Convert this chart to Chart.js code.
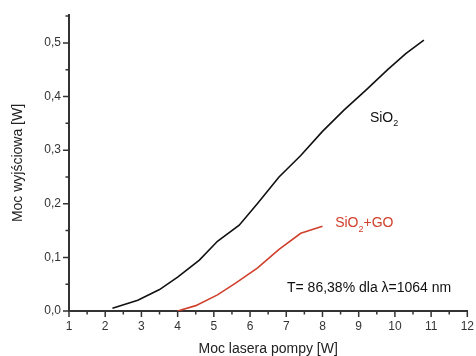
<!DOCTYPE html>
<html>
<head>
<meta charset="utf-8">
<script src="https://cdn.jsdelivr.net/npm/chart.js@4.4.1/dist/chart.umd.min.js"></script>
<style>
  html, body { margin: 0; padding: 0; background: #fff; }
  canvas { display: block; }
</style>
</head>
<body>
<canvas id="wykres" width="476" height="356"></canvas>
<script>
// dane
const sio2X = [2.2, 2.9, 3.5, 4.0, 4.6, 5.1, 5.7, 6.2, 6.8, 7.4, 8.0, 8.6, 9.2, 9.8, 10.3, 10.8];
const sio2Y = [0.005, 0.02, 0.04, 0.063, 0.095, 0.13, 0.16, 0.2, 0.25, 0.29, 0.335, 0.375, 0.412, 0.45, 0.48, 0.505];

const goX = [4.0, 4.5, 5.1, 5.6, 6.2, 6.8, 7.4, 8.0];
const goY = [0.0, 0.01, 0.03, 0.052, 0.08, 0.115, 0.145, 0.158];

const xTicks = [1, 2, 3, 4, 5, 6, 7, 8, 9, 10, 11, 12];
const yTicks = [0.0, 0.1, 0.2, 0.3, 0.4, 0.5];

const czcionka = "'Liberation Sans', Arial, sans-serif";

// podpisy na wykresie
const napisy = [
    { x: 9.31, y: 0.36, tekst: 'SiO', sub: '2', reszta: '', kolor: '#111' },
    { x: 8.35, y: 0.164, tekst: 'SiO', sub: '2', reszta: '+GO', kolor: '#d0402c' },
    { x: 7.02, y: 0.043, tekst: 'T= 86,38% dla \u03bb=1064 nm', sub: '', reszta: '', kolor: '#111' }
];

function punkty(xs, ys) {
    return xs.map((x, i) => ({ x: x, y: ys[i] }));
}

// male i duze kreski na osiach + napisy
const kreski = {
    id: 'kreski',
    afterDraw(chart) {
        const ctx = chart.ctx;
        const sx = chart.scales.x;
        const sy = chart.scales.y;
        const y0 = sy.getPixelForValue(0);
        const x0 = sx.getPixelForValue(1);
        ctx.save();
        ctx.strokeStyle = '#333';
        ctx.lineWidth = 1.5;
        ctx.beginPath();
        for (let v = 1; v <= 12.001; v += 0.5) {
            const px = sx.getPixelForValue(v);
            const dl = Math.abs(v - Math.round(v)) < 0.01 ? 6 : 3.5;
            ctx.moveTo(px, y0);
            ctx.lineTo(px, y0 + dl);
        }
        for (let v = 0; v <= 0.5501; v += 0.05) {
            const py = sy.getPixelForValue(v);
            const dl = Math.round(v * 20) % 2 === 0 ? 6 : 3.5;
            ctx.moveTo(x0, py);
            ctx.lineTo(x0 - dl, py);
        }
        ctx.stroke();

        ctx.textBaseline = 'middle';
        napisy.forEach(n => {
            let px = sx.getPixelForValue(n.x);
            const py = sy.getPixelForValue(n.y);
            ctx.fillStyle = n.kolor;
            ctx.font = '14px ' + czcionka;
            ctx.fillText(n.tekst, px, py);
            px += ctx.measureText(n.tekst).width;
            if (n.sub) {
                ctx.font = '9px ' + czcionka;
                ctx.fillText(n.sub, px, py + 6);
                px += ctx.measureText(n.sub).width;
            }
            if (n.reszta) {
                ctx.font = '14px ' + czcionka;
                ctx.fillText(n.reszta, px, py);
            }
        });
        ctx.restore();
    }
};

new Chart(document.getElementById('wykres'), {
    type: 'line',
    data: {
        datasets: [
            {
                label: 'SiO2',
                data: punkty(sio2X, sio2Y),
                borderColor: '#111',
                borderWidth: 1.6,
                pointRadius: 0,
                fill: false,
                tension: 0
            },
            {
                label: 'SiO2+GO',
                data: punkty(goX, goY),
                borderColor: '#d0402c',
                borderWidth: 1.6,
                pointRadius: 0,
                fill: false,
                tension: 0
            }
        ]
    },
    options: {
        responsive: false,
        animation: false,
        layout: { padding: { top: 15, right: 6, left: 0, bottom: 0 } },
        plugins: {
            legend: { display: false },
            tooltip: { enabled: false }
        },
        scales: {
            x: {
                type: 'linear',
                min: 1,
                max: 12,
                afterFit(s) { s.height = 45; },
                afterBuildTicks(s) { s.ticks = xTicks.map(v => ({ value: v })); },
                grid: { display: false, drawTicks: true, tickLength: 6 },
                border: { display: true, color: '#333', width: 2 },
                ticks: {
                    padding: 2,
                    color: '#333',
                    maxRotation: 0,
                    autoSkip: false,
                    font: { family: czcionka, size: 12 },
                    callback: v => String(v)
                },
                title: {
                    display: true,
                    text: 'Moc lasera pompy [W]',
                    color: '#222',
                    padding: { top: 0, bottom: -2 },
                    font: { family: czcionka, size: 14 }
                }
            },
            y: {
                min: 0,
                max: 0.552,
                afterFit(s) { s.width = 69; },
                afterBuildTicks(s) { s.ticks = yTicks.map(v => ({ value: v })); },
                grid: { display: false, drawTicks: true, tickLength: 6 },
                border: { display: true, color: '#333', width: 2 },
                ticks: {
                    padding: 2,
                    color: '#333',
                    autoSkip: false,
                    font: { family: czcionka, size: 12 },
                    callback: v => v.toFixed(1).replace('.', ',')
                },
                title: {
                    display: true,
                    text: 'Moc wyjściowa [W]',
                    color: '#222',
                    padding: { top: 10, bottom: 0 },
                    font: { family: czcionka, size: 14 }
                }
            }
        }
    },
    plugins: [kreski]
});
</script>
</body>
</html>
